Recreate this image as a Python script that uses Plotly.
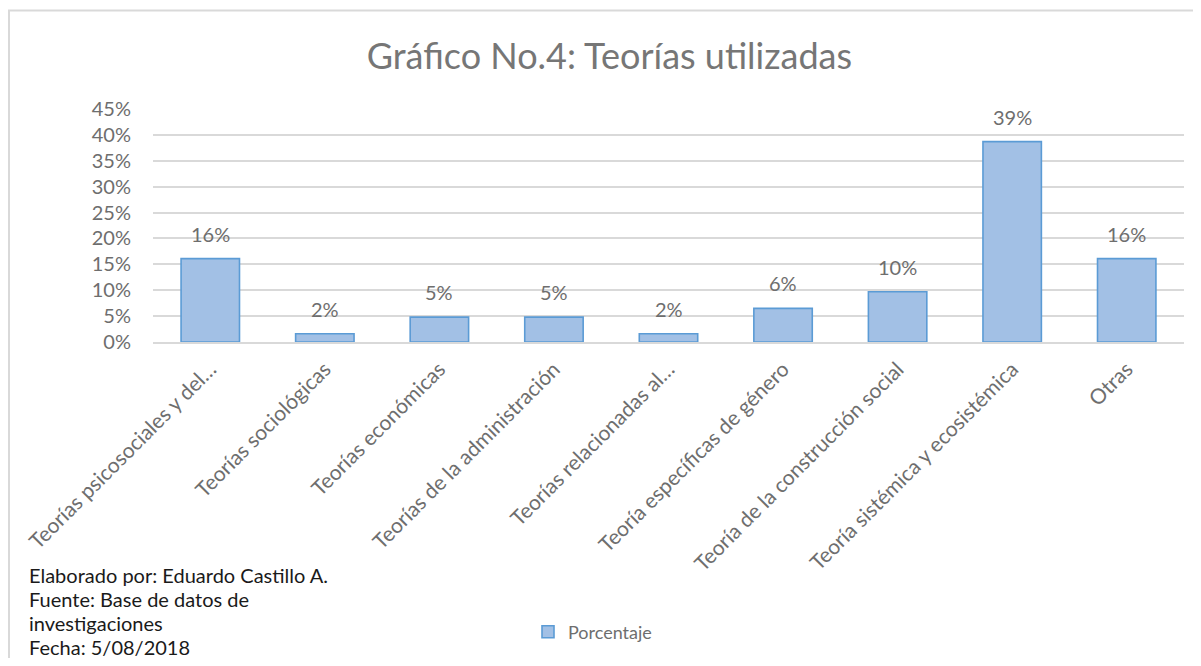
import plotly.graph_objects as go

# Datos
categorias = [
    "Teorías psicosociales y del…",
    "Teorías sociológicas",
    "Teorías económicas",
    "Teorías de la administración",
    "Teorías relacionadas al…",
    "Teoría específicas de género",
    "Teoría de la construcción social",
    "Teoría sistémica y ecosistémica",
    "Otras",
]
porcentaje = [0.161, 0.016, 0.048, 0.048, 0.016, 0.065, 0.097, 0.387, 0.161]
y_ticks = [0, 0.05, 0.10, 0.15, 0.20, 0.25, 0.30, 0.35, 0.40, 0.45]

nota = [
    "Elaborado por: Eduardo Castillo A.",
    "Fuente: Base de datos de",
    "investigaciones",
    "Fecha: 5/08/2018",
]

FONT_FAMILY = "Lato"
COLOR_TEXT = "#6e6e6e"
COLOR_BAR = "#a2c0e5"
COLOR_LINE = "#5b9bd5"

# posiciones de la pagina -> coordenadas "paper" (area de trazado 153..1184 x 109..343)
def px(x):
    return (x - 153) / 1031

def py(y):
    return (343 - y) / 234

fig = go.Figure()

fig.add_trace(go.Bar(
    x=categorias,
    y=porcentaje,
    name="Porcentaje",
    marker=dict(color=COLOR_BAR, line=dict(color=COLOR_LINE, width=1.6)),
    hovertemplate="%{x}<br>%{y:.0%}<extra></extra>",
))

# etiquetas de datos
for cat, val in zip(categorias, porcentaje):
    fig.add_annotation(
        x=cat, y=val, xref="x", yref="y",
        text=f"{val:.0%}",
        showarrow=False,
        yanchor="bottom",
        yshift=11,
        font=dict(family=FONT_FAMILY, size=20, color=COLOR_TEXT),
    )

# nota al pie
for i, linea in enumerate(nota):
    fig.add_annotation(
        x=px(27), y=py(577 + i * 24),
        xref="paper", yref="paper",
        xanchor="left", yanchor="middle",
        text=linea,
        showarrow=False,
        font=dict(family=FONT_FAMILY, size=20, color="#1a1a1a"),
    )

# borde del grafico
fig.add_shape(
    type="rect", xref="paper", yref="paper",
    x0=px(9), x1=px(1260), y0=py(720), y1=py(10),
    line=dict(color="#d9d9d9", width=2),
    fillcolor="rgba(0,0,0,0)",
    layer="below",
)

fig.update_layout(
    width=1185,
    height=650,
    margin=dict(l=145, r=9, t=101, b=315),
    paper_bgcolor="white",
    plot_bgcolor="white",
    bargap=0.49,
    font=dict(family=FONT_FAMILY, size=16, color=COLOR_TEXT),
    title=dict(
        text="Gráfico No.4: Teorías utilizadas",
        x=0.5075, xanchor="center",
        y=1 - 48 / 650, yanchor="middle",
        font=dict(family=FONT_FAMILY, size=36, color="#767676"),
    ),
    xaxis=dict(
        tickangle=-45,
        showgrid=False,
        showline=True,
        linecolor="#d9d9d9",
        linewidth=1.5,
        tickfont=dict(family=FONT_FAMILY, size=21, color=COLOR_TEXT),
        ticklabelstandoff=5,
    ),
    yaxis=dict(
        range=[0, 0.45],
        tickvals=y_ticks,
        tickformat=".0%",
        showgrid=True,
        gridcolor="#d9d9d9",
        gridwidth=1.5,
        zeroline=False,
        tickfont=dict(family=FONT_FAMILY, size=20, color=COLOR_TEXT),
        ticklabelstandoff=21,
    ),
    showlegend=True,
    legend=dict(
        orientation="h",
        x=px(528), xanchor="left",
        y=py(632), yanchor="middle",
        font=dict(family=FONT_FAMILY, size=18, color=COLOR_TEXT),
    ),
)

fig.write_html("out.html")
